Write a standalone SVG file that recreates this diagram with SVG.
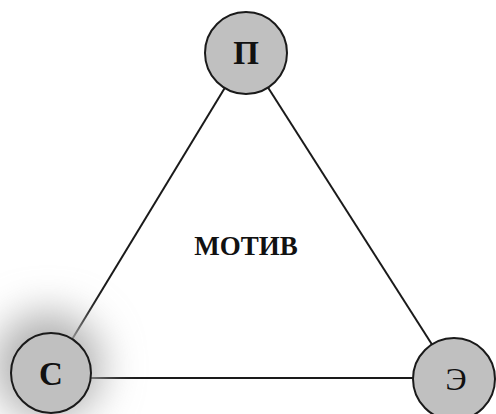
<svg xmlns="http://www.w3.org/2000/svg" width="496" height="414" viewBox="0 0 496 414">
<defs>
<filter id="glow" x="-150%" y="-150%" width="400%" height="400%">
<feGaussianBlur stdDeviation="20"/>
</filter>
</defs>
<style>
.node{fill:#c0c0c0;stroke:#1a1a1a;stroke-width:2}
.edge{stroke:#1a1a1a;stroke-width:2;fill:none}
.lbl{font-family:"Liberation Serif","Times New Roman",serif;fill:#111;text-anchor:middle}
</style>
<rect width="496" height="414" fill="#fff"/>
<g id="connectors">
<line class="edge" x1="246" y1="53" x2="51" y2="374"/>
<line class="edge" x1="246" y1="53" x2="454" y2="379"/>
<line class="edge" x1="51" y1="378" x2="454" y2="378"/>
</g>
<g id="node-S">
<circle cx="48" cy="366" r="54" fill="#b0b0b0" filter="url(#glow)"/>
<circle class="node" cx="51" cy="373" r="40"/>
<text class="lbl" x="51" y="385" font-size="33" font-weight="bold">С</text>
</g>
<g id="node-P">
<circle class="node" cx="246" cy="53" r="41"/>
<text class="lbl" x="246" y="64" font-size="33" font-weight="bold">П</text>
</g>
<g id="node-E">
<circle class="node" cx="454" cy="379" r="41"/>
<text class="lbl" x="456" y="390" font-size="32">Э</text>
</g>
<g id="label">
<text class="lbl" x="246" y="255" font-size="27" font-weight="bold">МОТИВ</text>
</g>
</svg>
